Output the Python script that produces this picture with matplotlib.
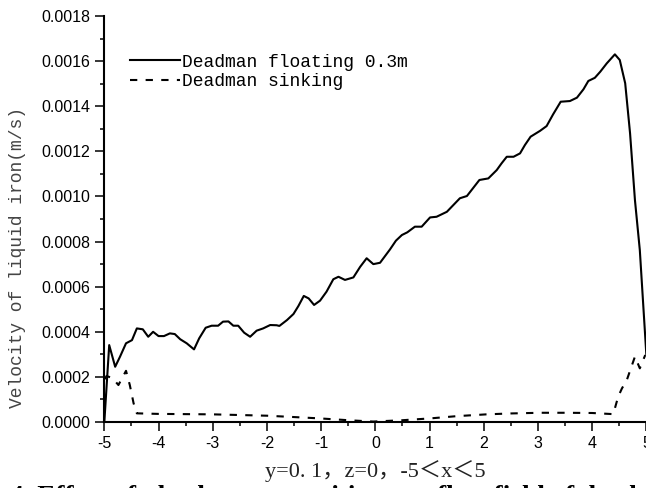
import numpy as np
import matplotlib.pyplot as plt
from matplotlib.ticker import MultipleLocator, FormatStrFormatter

plt.rcParams['axes.unicode_minus'] = False

# Deadman floating 0.3m (solid)
x_float = [-5.0, -4.91, -4.80, -4.71, -4.60, -4.49, -4.40, -4.29, -4.19, -4.10,
           -4.00, -3.90, -3.79, -3.70, -3.60, -3.48, -3.345, -3.25, -3.13, -3.02,
           -2.90, -2.81, -2.71, -2.62, -2.53, -2.42, -2.31, -2.19, -2.07, -1.94,
           -1.82, -1.77, -1.63, -1.51, -1.42, -1.32, -1.23, -1.13, -1.02, -0.90,
           -0.775, -0.68, -0.56, -0.405, -0.28, -0.16, -0.037, 0.087, 0.27, 0.38,
           0.49, 0.59, 0.73, 0.855, 1.01, 1.13, 1.32, 1.44, 1.56, 1.69,
           1.81, 1.92, 2.085, 2.24, 2.33, 2.425, 2.55, 2.67, 2.76, 2.865,
           3.04, 3.16, 3.28, 3.42, 3.59, 3.72, 3.84, 3.93, 4.05, 4.15,
           4.27, 4.42, 4.51, 4.61, 4.70, 4.79, 4.88, 5.0]
v_float = [0.0, 0.000341, 0.000245, 0.00029, 0.000349, 0.000363, 0.000415, 0.000411, 0.000378, 0.0004,
           0.000381, 0.000381, 0.000393, 0.00039, 0.000367, 0.000349, 0.000322, 0.000371, 0.000418, 0.000427,
           0.000427, 0.000445, 0.000446, 0.000427, 0.000427, 0.000396, 0.000378, 0.000405, 0.000415, 0.00043,
           0.000429, 0.000426, 0.000452, 0.000479, 0.000514, 0.000559, 0.000548, 0.000519, 0.000538, 0.000578,
           0.000633, 0.000644, 0.00063, 0.000641, 0.000688, 0.000726, 0.0007, 0.000706, 0.000765, 0.000804,
           0.000829, 0.000841, 0.000866, 0.000866, 0.000907, 0.00091, 0.000932, 0.000962, 0.000992, 0.001002,
           0.001039, 0.001073, 0.00108, 0.001117, 0.001147, 0.001176, 0.001176, 0.001191, 0.001228, 0.001265,
           0.001291, 0.001312, 0.001364, 0.00142, 0.001423, 0.001438, 0.001475, 0.001512, 0.001526, 0.001553,
           0.00159, 0.00163, 0.001605, 0.001502, 0.00128, 0.000984, 0.000762, 0.0003]

# Deadman sinking (dashed)
x_sink = [-4.99, -4.96, -4.85, -4.74, -4.60, -4.53, -4.46, -4.40, -4.0, -3.0,
          -2.0, -1.5, -1.02, -0.5, -0.04, 0.5, 1.01, 1.5, 2.05, 2.5,
          3.04, 3.5, 4.0, 4.39, 4.48, 4.55, 4.64, 4.79, 4.88, 4.98]
v_sink = [0.00019, 0.000204, 0.000195, 0.000164, 0.000227, 0.000164, 0.000083, 0.0000385, 0.000036, 0.000034,
          0.000028, 0.000022, 0.000016, 0.000008, 0.000002, 0.000008, 0.000016, 0.000026, 0.000034, 0.000038,
          0.000041, 0.000041, 0.00004, 0.000035, 0.000112, 0.000149, 0.000186, 0.00029, 0.000238, 0.000297]

labels = ['Deadman floating 0.3m', 'Deadman sinking']

fig = plt.figure(figsize=(6.46, 4.88), dpi=100)
ax = fig.add_axes([0.1615, 0.1352, 0.8390, 0.832])

ax.plot(x_float, v_float, color='black', lw=1.5, label=labels[0])
ax.plot(x_sink, v_sink, color='black', lw=1.5, linestyle=(0, (3.5, 4)), label=labels[1])

ax.set_xlim(-5, 5)
ax.set_ylim(0, 0.0018)
ax.xaxis.set_major_locator(MultipleLocator(1))
ax.xaxis.set_minor_locator(MultipleLocator(0.5))
ax.yaxis.set_major_locator(MultipleLocator(0.0002))
ax.yaxis.set_minor_locator(MultipleLocator(0.0001))
ax.yaxis.set_major_formatter(FormatStrFormatter('%.4f'))

for s in ['top', 'right']:
    ax.spines[s].set_visible(False)
for s in ['left', 'bottom']:
    ax.spines[s].set_linewidth(1.5)

ax.tick_params(which='major', direction='out', length=6.5, width=1.1, pad=3.5,
               labelsize=11.5)
ax.tick_params(which='minor', direction='out', length=3.2, width=1.1)
for lab in ax.get_xticklabels() + ax.get_yticklabels():
    lab.set_fontfamily('Liberation Sans')

leg = ax.legend(loc='upper left', bbox_to_anchor=(0.048, 0.907), frameon=False,
                handlelength=2.75, handletextpad=0.1, labelspacing=0.12,
                borderpad=0, borderaxespad=0,
                prop={'family': 'Liberation Mono', 'size': 13})

fig.text(18 / 646, 1 - 257 / 488, 'Velocity of liquid iron(m/s)', rotation=90,
         ha='center', va='center', family='Liberation Mono', size=13, color='#444444')

fig.text(375 / 646, 1 - 477 / 488, 'y=0. 1，z=0，-5＜x＜5', ha='center', va='baseline',
         family=['Liberation Serif', 'Noto Sans CJK SC'], size=16, color='#222222')

# caption of the figure, mostly cut off at the bottom edge
cap_y = -15.5 / 488
for xp, word in [(10, '4. Effect of'), (150, 'deadman'), (292, 'positions on'),
                 (437, 'flow field of deadman')]:
    fig.text(xp / 646, cap_y, word, ha='left', va='baseline',
             family='Liberation Serif', weight='bold', size=19.5)

fig.savefig('out.png', dpi=100)
